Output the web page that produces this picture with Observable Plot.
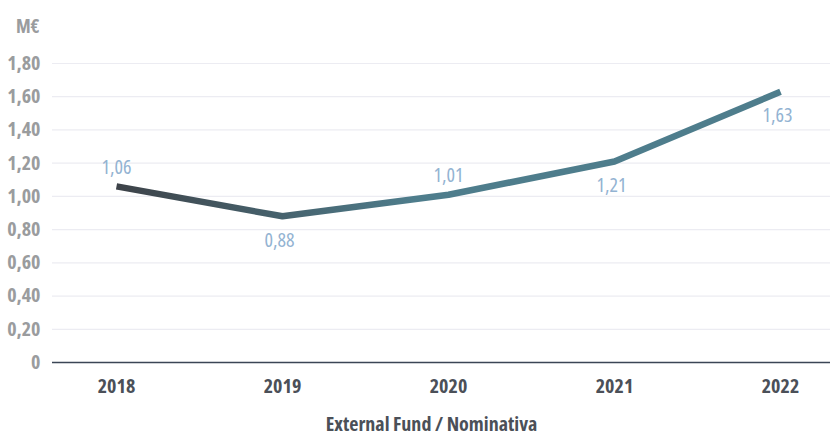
<!DOCTYPE html>
<html>
<head>
<meta charset="utf-8">
<script src="https://cdn.jsdelivr.net/npm/d3@7"></script>
<script src="https://cdn.jsdelivr.net/npm/@observablehq/plot@0.6"></script>
<style>
  html, body { margin: 0; padding: 0; background: #fff; }
  #chart svg { display: block; font-family: "Open Sans", "Noto Sans", sans-serif; font-stretch: 75%; }
  #chart svg text { font-stretch: 75%; }
</style>
</head>
<body>
<div id="chart"></div>
<script>
const years = ["2018", "2019", "2020", "2021", "2022"];
const values = [1.06, 0.88, 1.01, 1.21, 1.63];
const yTicks = [0, 0.2, 0.4, 0.6, 0.8, 1.0, 1.2, 1.4, 1.6, 1.8];
const unitLabel = "M€";
const xTitle = "External Fund / Nominativa";
const labelsAbove = ["2018", "2020"];

const data = years.map((y, i) => ({year: y, value: values[i]}));
const fmt = d => d === 0 ? "0" : d.toFixed(2).replace(".", ",");

const gradientDefs = () => {
  const ns = "http://www.w3.org/2000/svg";
  const defs = document.createElementNS(ns, "defs");
  const g = document.createElementNS(ns, "linearGradient");
  g.setAttribute("id", "lineGrad");
  g.setAttribute("x1", "0"); g.setAttribute("x2", "1");
  g.setAttribute("y1", "0"); g.setAttribute("y2", "0");
  [["0", "#3d4248"], ["0.45", "#4e7d8c"], ["1", "#4e7d8c"]].forEach(([o, c]) => {
    const s = document.createElementNS(ns, "stop");
    s.setAttribute("offset", o); s.setAttribute("stop-color", c);
    g.appendChild(s);
  });
  defs.appendChild(g);
  return defs;
};

const chart = Plot.plot({
  width: 830,
  height: 435,
  marginLeft: 52,
  marginRight: 0,
  marginTop: 63,
  marginBottom: 73,
  style: {fontSize: "17px", fontWeight: "bold"},
  x: {type: "point", domain: years, range: [116, 780], padding: 0, axis: null},
  y: {domain: [0, 1.8], axis: null},
  marks: [
    gradientDefs,
    Plot.ruleY(yTicks.filter(d => d > 0), {stroke: "#ececf2", strokeWidth: 1.2}),
    Plot.ruleY([0], {stroke: "#3b4656", strokeWidth: 1.5}),
    Plot.text(yTicks, {y: d => d, text: fmt, frameAnchor: "left", dx: -12, textAnchor: "end", fill: "#9a9c9e", fontSize: 20}),
    Plot.text([unitLabel], {frameAnchor: "top-left", dx: -13, dy: -44, textAnchor: "end", text: d => d, fill: "#9a9c9e", fontSize: 19}),
    Plot.text(years, {x: d => d, text: d => d, frameAnchor: "bottom", dy: 30, fill: "#4b5058", fontSize: 20}),
    Plot.text([xTitle], {frameAnchor: "bottom", dx: -10, dy: 68, text: d => d, fill: "#4b5058", fontSize: 20}),
    Plot.line(data, {x: "year", y: "value", stroke: "url(#lineGrad)", strokeWidth: 6.5, strokeLinejoin: "miter", strokeLinecap: "butt"}),
    Plot.text(data.filter(d => labelsAbove.includes(d.year)), {x: "year", y: "value", text: d => fmt(d.value), dy: -19, fill: "#93b3d2", fontSize: 20, fontWeight: 500}),
    Plot.text(data.filter(d => !labelsAbove.includes(d.year)), {x: "year", y: "value", text: d => fmt(d.value), dy: 24, dx: -3, fill: "#93b3d2", fontSize: 20, fontWeight: 500})
  ]
});
document.getElementById("chart").appendChild(chart);
</script>
</body>
</html>
